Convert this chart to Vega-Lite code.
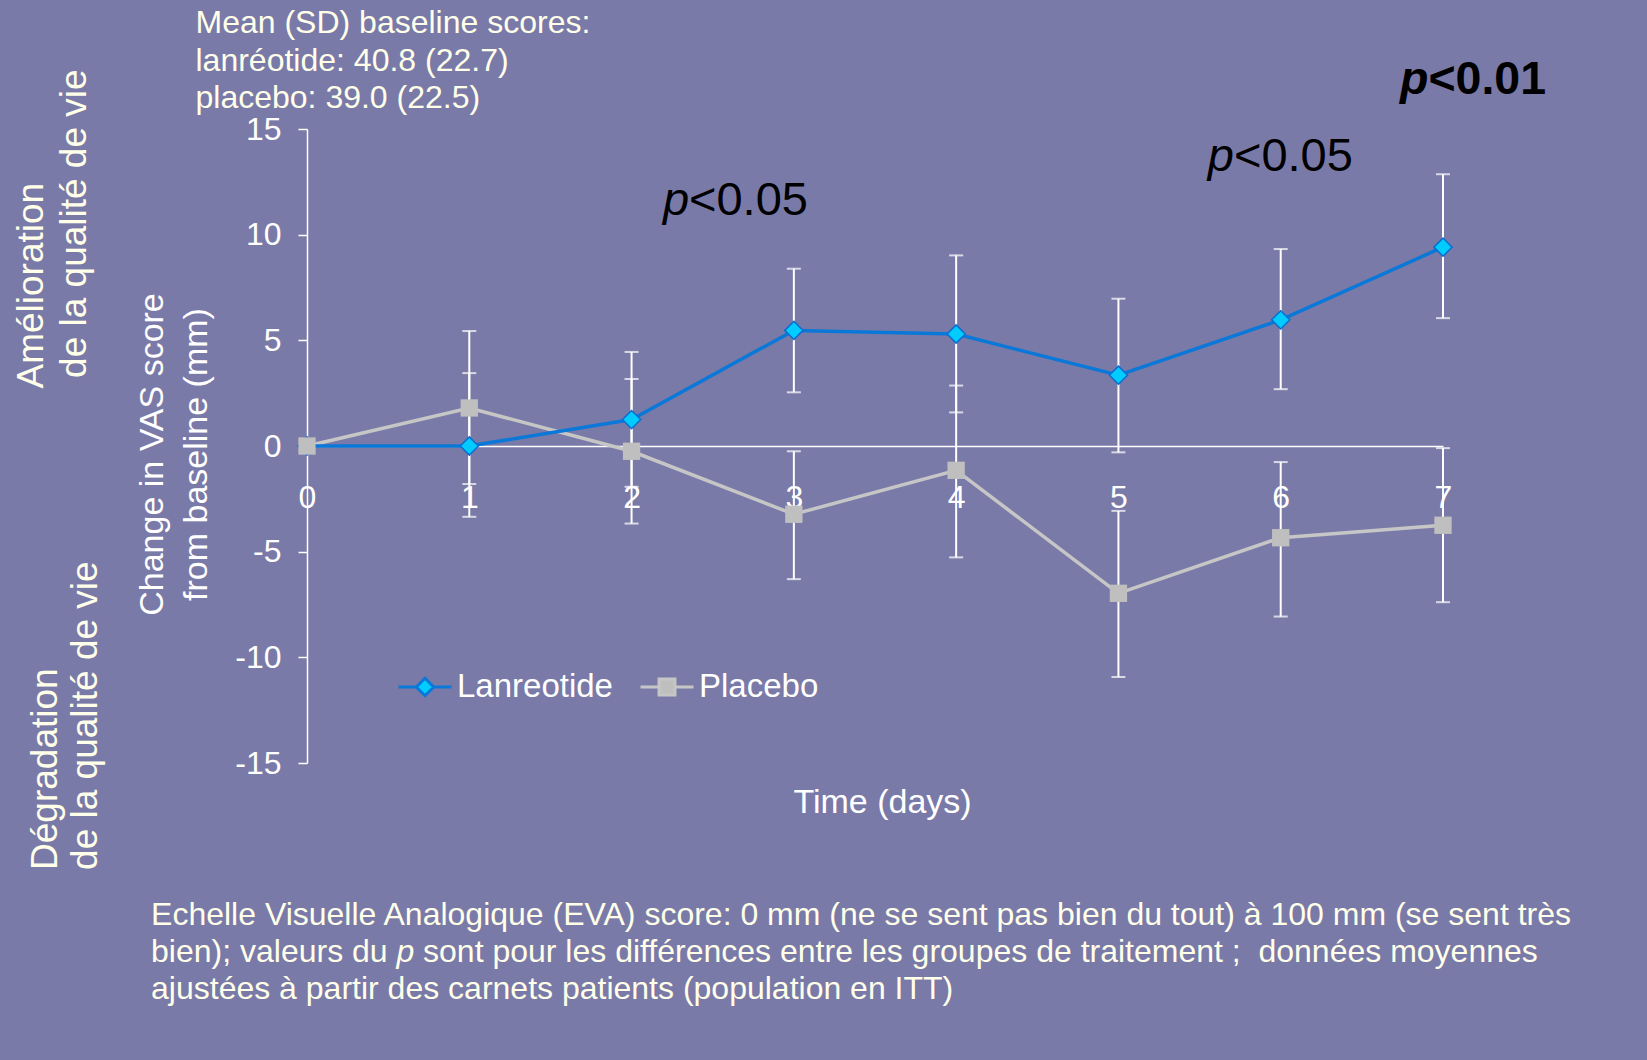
{
  "$schema": "https://vega.github.io/schema/vega-lite/v6.json",
  "autosize": {"type": "none"},
  "width": 1136,
  "height": 634,
  "padding": {"left": 307, "top": 129, "right": 204, "bottom": 297},
  "background": "#7A7AA8",
  "config": {
    "view": {"stroke": null},
    "font": "Liberation Sans",
    "axis": {"grid": false, "labelFont": "Liberation Sans", "titleFont": "Liberation Sans"},
    "text": {"font": "Liberation Sans"}
  },
  "datasets": {
    "vas": [
      {"group": "Lanreotide", "day": 0, "mean": 0, "lo": null, "hi": null},
      {"group": "Lanreotide", "day": 1, "mean": 0, "lo": -3.35, "hi": 3.45},
      {"group": "Lanreotide", "day": 2, "mean": 1.25, "lo": -1.93, "hi": 4.45},
      {"group": "Lanreotide", "day": 3, "mean": 5.47, "lo": 2.54, "hi": 8.39},
      {"group": "Lanreotide", "day": 4, "mean": 5.3, "lo": 1.59, "hi": 9.02},
      {"group": "Lanreotide", "day": 5, "mean": 3.35, "lo": -0.3, "hi": 6.97},
      {"group": "Lanreotide", "day": 6, "mean": 5.97, "lo": 2.69, "hi": 9.32},
      {"group": "Lanreotide", "day": 7, "mean": 9.41, "lo": 6.05, "hi": 12.86},
      {"group": "Placebo", "day": 0, "mean": 0, "lo": null, "hi": null},
      {"group": "Placebo", "day": 1, "mean": 1.8, "lo": -1.8, "hi": 5.44},
      {"group": "Placebo", "day": 2, "mean": -0.25, "lo": -3.67, "hi": 3.17},
      {"group": "Placebo", "day": 3, "mean": -3.23, "lo": -6.3, "hi": -0.25},
      {"group": "Placebo", "day": 4, "mean": -1.15, "lo": -5.27, "hi": 2.86},
      {"group": "Placebo", "day": 5, "mean": -6.97, "lo": -10.93, "hi": -3.07},
      {"group": "Placebo", "day": 6, "mean": -4.34, "lo": -8.07, "hi": -0.76},
      {"group": "Placebo", "day": 7, "mean": -3.75, "lo": -7.39, "hi": -0.1}
    ]
  },
  "data": {"name": "vas"},
  "layer": [
    {
      "transform": [{"filter": "datum.group === 'Placebo'"}],
      "mark": {"type": "line", "color": "#C6C6C6", "strokeWidth": 3.5},
      "encoding": {
        "x": {
          "field": "day", "type": "quantitative",
          "title": "Time (days)",
          "scale": {"domain": [0, 7], "nice": false, "zero": false},
          "axis": {
            "title": "Time (days)",
            "values": [0, 1, 2, 3, 4, 5, 6, 7],
            "format": "d",
            "offset": -317,
            "ticks": false,
            "tickSize": 0,
            "domainColor": "#FFFFFF",
            "domainWidth": 1.5,
            "labelColor": "#FFFFFF",
            "labelFontSize": 32,
            "labelPadding": 36,
            "labelFlush": false,
            "titleColor": "#FFFFFF",
            "titleFontSize": 34,
            "titleFontWeight": "normal",
            "titleX": 575,
            "titleY": 366,
            "titleBaseline": "alphabetic",
            "titleAlign": "center"
          }
        },
        "y": {
          "field": "mean", "type": "quantitative",
          "title": ["Change in VAS score", "from baseline (mm)"],
          "scale": {"domain": [-15, 15], "nice": false, "zero": false},
          "axis": {
            "title": ["Change in VAS score", "from baseline (mm)"],
            "values": [-15, -10, -5, 0, 5, 10, 15],
            "labelExpr": "'' + datum.value",
            "tickSize": 9,
            "tickColor": "#FFFFFF",
            "tickWidth": 1.5,
            "domainColor": "#FFFFFF",
            "domainWidth": 1.5,
            "labelColor": "#FFFFFF",
            "labelFontSize": 32,
            "labelPadding": 17,
            "titleColor": "#FFFFFF",
            "titleFontSize": 34,
            "titleFontWeight": "normal",
            "titleX": -155,
            "titleY": 325,
            "titleAngle": -90,
            "titleBaseline": "middle",
            "titleAlign": "center",
            "titleLineHeight": 44
          }
        }
      }
    },
    {
      "transform": [{"filter": "datum.group === 'Lanreotide'"}],
      "mark": {"type": "line", "color": "#0A78D8", "strokeWidth": 3.5},
      "encoding": {
        "x": {"field": "day", "type": "quantitative", "title": "Time (days)"},
        "y": {"field": "mean", "type": "quantitative", "title": ["Change in VAS score", "from baseline (mm)"]}
      }
    },
    {
      "transform": [{"filter": "isValid(datum.lo)"}],
      "mark": {"type": "errorbar", "color": "#FFFFFF", "thickness": 2, "ticks": {"size": 14, "thickness": 2, "color": "#FFFFFF"}},
      "encoding": {
        "x": {"field": "day", "type": "quantitative", "title": "Time (days)"},
        "y": {"field": "lo", "type": "quantitative", "title": ["Change in VAS score", "from baseline (mm)"]},
        "y2": {"field": "hi"}
      }
    },
    {
      "transform": [{"filter": "datum.group === 'Lanreotide'"}],
      "mark": {"type": "point", "shape": "diamond", "filled": true, "fill": "#00CCFF", "stroke": "#0A6CD0", "strokeWidth": 1.5, "size": 330, "opacity": 1},
      "encoding": {
        "x": {"field": "day", "type": "quantitative", "title": "Time (days)"},
        "y": {"field": "mean", "type": "quantitative", "title": ["Change in VAS score", "from baseline (mm)"]}
      }
    },
    {
      "transform": [{"filter": "datum.group === 'Placebo'"}],
      "mark": {"type": "point", "shape": "square", "filled": true, "color": "#BFBFBF", "size": 300, "opacity": 1},
      "encoding": {
        "x": {"field": "day", "type": "quantitative", "title": "Time (days)"},
        "y": {"field": "mean", "type": "quantitative", "title": ["Change in VAS score", "from baseline (mm)"]}
      }
    },
    {
      "transform": [{"filter": "false"}],
      "mark": {"type": "point", "filled": true, "size": 2809, "strokeWidth": 3, "opacity": 1},
      "encoding": {
        "shape": {
          "field": "group", "type": "nominal",
          "scale": {"domain": ["Lanreotide", "Placebo"], "range": ["M-1,0L-0.33,0M0.33,0L1,0M0,-0.33L0.33,0L0,0.33L-0.33,0Z", "M-1,0L-0.3,0M0.3,0L1,0M-0.3,-0.3L0.3,-0.3L0.3,0.3L-0.3,0.3Z"]},
          "legend": {"title": null, "orient": "none", "legendX": 90, "legendY": 530, "direction": "horizontal", "labelFontSize": 33, "labelColor": "#FFFFFF", "labelFont": "Liberation Sans", "symbolSize": 2809, "symbolStrokeWidth": 3, "labelOffset": 4, "columnPadding": 21, "padding": 0, "labelLimit": 400}
        },
        "fill": {
          "field": "group", "type": "nominal",
          "scale": {"domain": ["Lanreotide", "Placebo"], "range": ["#00CCFF", "#BFBFBF"]},
          "legend": {"title": null, "orient": "none", "legendX": 90, "legendY": 530, "direction": "horizontal", "labelFontSize": 33, "labelColor": "#FFFFFF", "labelFont": "Liberation Sans", "symbolSize": 2809, "symbolStrokeWidth": 3, "labelOffset": 4, "columnPadding": 21, "padding": 0, "labelLimit": 400}
        },
        "stroke": {
          "field": "group", "type": "nominal",
          "scale": {"domain": ["Lanreotide", "Placebo"], "range": ["#0A78D8", "#C6C6C6"]},
          "legend": {"title": null, "orient": "none", "legendX": 90, "legendY": 530, "direction": "horizontal", "labelFontSize": 33, "labelColor": "#FFFFFF", "labelFont": "Liberation Sans", "symbolSize": 2809, "symbolStrokeWidth": 3, "labelOffset": 4, "columnPadding": 21, "padding": 0, "labelLimit": 400}
        }
      }
    },
    {
      "data": {"values": [{}]},
      "mark": {"type": "text", "text": "Mean (SD) baseline scores:", "align": "left", "baseline": "alphabetic", "fontSize": 32, "color": "#FFFFEA"},
      "encoding": {"x": {"datum": -0.687, "type": "quantitative"}, "y": {"datum": 19.53, "type": "quantitative"}}
    },
    {
      "data": {"values": [{}]},
      "mark": {"type": "text", "text": "lanréotide: 40.8 (22.7)", "align": "left", "baseline": "alphabetic", "fontSize": 32, "color": "#FFFFEA"},
      "encoding": {"x": {"datum": -0.687, "type": "quantitative"}, "y": {"datum": 17.76, "type": "quantitative"}}
    },
    {
      "data": {"values": [{}]},
      "mark": {"type": "text", "text": "placebo: 39.0 (22.5)", "align": "left", "baseline": "alphabetic", "fontSize": 32, "color": "#FFFFEA"},
      "encoding": {"x": {"datum": -0.687, "type": "quantitative"}, "y": {"datum": 15.98, "type": "quantitative"}}
    },
    {
      "data": {"values": [{}]},
      "mark": {"type": "text", "text": "p", "align": "right", "baseline": "alphabetic", "fontSize": 47, "fontStyle": "italic", "color": "#000000"},
      "encoding": {"x": {"datum": 2.354, "type": "quantitative"}, "y": {"datum": 10.91, "type": "quantitative"}}
    },
    {
      "data": {"values": [{}]},
      "mark": {"type": "text", "text": "<0.05", "align": "left", "baseline": "alphabetic", "fontSize": 47, "color": "#000000"},
      "encoding": {"x": {"datum": 2.354, "type": "quantitative"}, "y": {"datum": 10.91, "type": "quantitative"}}
    },
    {
      "data": {"values": [{}]},
      "mark": {"type": "text", "text": "p", "align": "right", "baseline": "alphabetic", "fontSize": 47, "fontStyle": "italic", "color": "#000000"},
      "encoding": {"x": {"datum": 5.712, "type": "quantitative"}, "y": {"datum": 13.01, "type": "quantitative"}}
    },
    {
      "data": {"values": [{}]},
      "mark": {"type": "text", "text": "<0.05", "align": "left", "baseline": "alphabetic", "fontSize": 47, "color": "#000000"},
      "encoding": {"x": {"datum": 5.712, "type": "quantitative"}, "y": {"datum": 13.01, "type": "quantitative"}}
    },
    {
      "data": {"values": [{}]},
      "mark": {"type": "text", "text": "p", "align": "right", "baseline": "alphabetic", "fontSize": 46.5, "fontStyle": "italic", "fontWeight": "bold", "color": "#000000"},
      "encoding": {"x": {"datum": 6.91, "type": "quantitative"}, "y": {"datum": 16.66, "type": "quantitative"}}
    },
    {
      "data": {"values": [{}]},
      "mark": {"type": "text", "text": "<0.01", "align": "left", "baseline": "alphabetic", "fontSize": 46.5, "fontWeight": "bold", "color": "#000000"},
      "encoding": {"x": {"datum": 6.91, "type": "quantitative"}, "y": {"datum": 16.66, "type": "quantitative"}}
    },
    {
      "data": {"values": [{}]},
      "mark": {"type": "text", "text": "Amélioration", "align": "left", "baseline": "alphabetic", "angle": 270, "fontSize": 37, "color": "#FFFFEA"},
      "encoding": {"x": {"datum": -1.627, "type": "quantitative"}, "y": {"datum": 2.72, "type": "quantitative"}}
    },
    {
      "data": {"values": [{}]},
      "mark": {"type": "text", "text": "de la qualité de vie", "align": "left", "baseline": "alphabetic", "angle": 270, "fontSize": 37, "color": "#FFFFEA"},
      "encoding": {"x": {"datum": -1.362, "type": "quantitative"}, "y": {"datum": 3.22, "type": "quantitative"}}
    },
    {
      "data": {"values": [{}]},
      "mark": {"type": "text", "text": "Dégradation", "align": "left", "baseline": "alphabetic", "angle": 270, "fontSize": 37, "color": "#FFFFEA"},
      "encoding": {"x": {"datum": -1.54, "type": "quantitative"}, "y": {"datum": -20.06, "type": "quantitative"}}
    },
    {
      "data": {"values": [{}]},
      "mark": {"type": "text", "text": "de la qualité de vie", "align": "left", "baseline": "alphabetic", "angle": 270, "fontSize": 37, "color": "#FFFFEA"},
      "encoding": {"x": {"datum": -1.294, "type": "quantitative"}, "y": {"datum": -20.06, "type": "quantitative"}}
    },
    {
      "data": {"values": [{}]},
      "mark": {"type": "text", "text": "Echelle Visuelle Analogique (EVA) score: 0 mm (ne se sent pas bien du tout) à 100 mm (se sent très", "align": "left", "baseline": "alphabetic", "fontSize": 32, "color": "#FFFFEA"},
      "encoding": {"x": {"datum": -0.961, "type": "quantitative"}, "y": {"datum": -22.67, "type": "quantitative"}}
    },
    {
      "data": {"values": [{}]},
      "mark": {"type": "text", "text": "bien); valeurs du", "align": "left", "baseline": "alphabetic", "fontSize": 32, "color": "#FFFFEA"},
      "encoding": {"x": {"datum": -0.961, "type": "quantitative"}, "y": {"datum": -24.42, "type": "quantitative"}}
    },
    {
      "data": {"values": [{}]},
      "mark": {"type": "text", "text": "p", "align": "left", "baseline": "alphabetic", "fontSize": 32, "fontStyle": "italic", "color": "#FFFFEA"},
      "encoding": {"x": {"datum": 0.551, "type": "quantitative"}, "y": {"datum": -24.42, "type": "quantitative"}}
    },
    {
      "data": {"values": [{}]},
      "mark": {"type": "text", "text": "sont pour les différences entre les groupes de traitement ; \u00a0données moyennes", "align": "left", "baseline": "alphabetic", "fontSize": 32, "color": "#FFFFEA"},
      "encoding": {"x": {"datum": 0.715, "type": "quantitative"}, "y": {"datum": -24.42, "type": "quantitative"}}
    },
    {
      "data": {"values": [{}]},
      "mark": {"type": "text", "text": "ajustées à partir des carnets patients (population en ITT)", "align": "left", "baseline": "alphabetic", "fontSize": 32, "color": "#FFFFEA"},
      "encoding": {"x": {"datum": -0.961, "type": "quantitative"}, "y": {"datum": -26.17, "type": "quantitative"}}
    }
  ]
}
